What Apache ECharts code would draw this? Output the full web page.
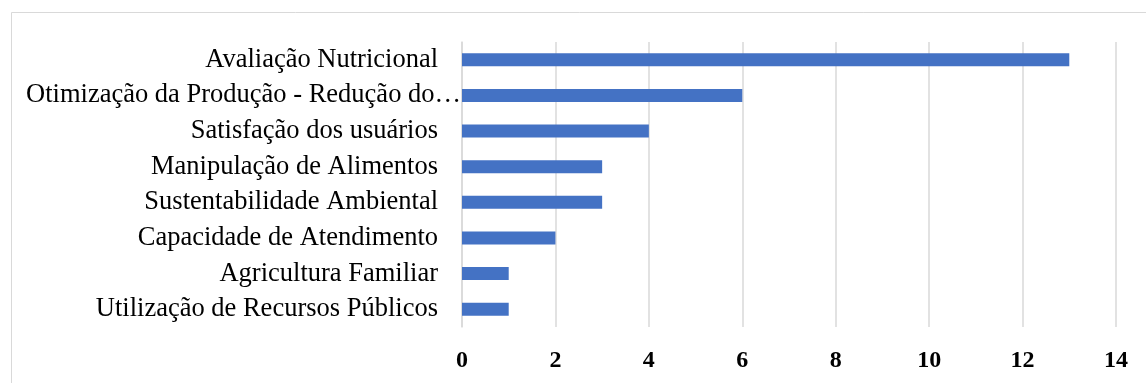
<!DOCTYPE html>
<html>
<head>
<meta charset="utf-8">
<script src="https://cdn.jsdelivr.net/npm/echarts@6/dist/echarts.min.js"></script>
<style>
html,body{margin:0;padding:0;background:#fff;}
#c{width:1146px;height:383px;}
</style>
</head>
<body>
<div id="c"></div>
<script>
const categories = [
  "Avaliação Nutricional",
  "Otimização da Produção - Redução do…",
  "Satisfação dos usuários",
  "Manipulação de Alimentos",
  "Sustentabilidade Ambiental",
  "Capacidade de Atendimento",
  "Agricultura Familiar",
  "Utilização de Recursos Públicos"
];
const values = [13, 6, 4, 3, 3, 2, 1, 1];
const xTicks = { min: 0, max: 14, interval: 2 };
const truncatedIndex = 1;

const labelFont = { fontFamily: 'Liberation Serif', fontSize: 26.5, color: '#000' };

const chart = echarts.init(document.getElementById('c'), null, {renderer: 'canvas'});
chart.setOption({
  backgroundColor: '#fff',
  animation: false,
  graphic: [{
    type: 'rect', silent: true,
    shape: { x: 11.5, y: 12.5, width: 1300, height: 600 },
    style: { fill: 'none', stroke: '#d9d9d9', lineWidth: 1 }
  }],
  grid: { left: 462, right: 30, top: 42, bottom: 56, containLabel: false },
  xAxis: {
    type: 'value', min: xTicks.min, max: xTicks.max, interval: xTicks.interval,
    axisLine: { show: false }, axisTick: { show: false },
    splitLine: { show: true, lineStyle: { color: '#d9d9d9', width: 1.5 } },
    axisLabel: { fontFamily: 'Liberation Serif', fontSize: 24, fontWeight: 'bold', color: '#000', margin: 22 }
  },
  yAxis: [{
    type: 'category', data: categories, inverse: true,
    axisLine: { show: true, lineStyle: { color: '#d9d9d9', width: 1.5 } },
    axisTick: { show: false },
    axisLabel: Object.assign({ margin: 24, formatter: (v, i) => i === truncatedIndex ? '' : v }, labelFont)
  }, {
    type: 'category', data: categories, inverse: true, position: 'left',
    axisLine: { show: false }, axisTick: { show: false }, splitLine: { show: false },
    axisLabel: Object.assign({ margin: 1, formatter: (v, i) => i === truncatedIndex ? v : '' }, labelFont)
  }],
  series: [{
    type: 'bar', data: values, barWidth: 13,
    itemStyle: { color: '#4472C4' }
  }]
});
</script>
</body>
</html>
